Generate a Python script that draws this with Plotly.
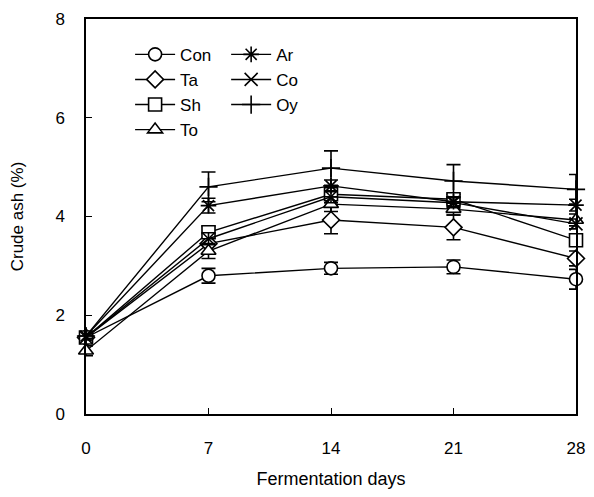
import plotly.graph_objects as go

days = [0, 7, 14, 21, 28]

con = [1.55, 2.80, 2.95, 2.98, 2.73]
con_err = [0.05, 0.15, 0.12, 0.14, 0.20]
ta = [1.55, 3.45, 3.93, 3.78, 3.15]
ta_err = [0.05, 0.20, 0.28, 0.25, 0.15]
sh = [1.55, 3.68, 4.45, 4.35, 3.52]
sh_err = [0.05, 0.12, 0.10, 0.10, 0.12]
to = [1.28, 3.30, 4.25, 4.15, 3.93]
to_err = [0.10, 0.15, 0.15, 0.12, 0.12]
ar = [1.58, 4.22, 4.62, 4.30, 4.23]
ar_err = [0.05, 0.15, 0.12, 0.10, 0.12]
co = [1.55, 3.55, 4.40, 4.28, 3.85]
co_err = [0.05, 0.12, 0.12, 0.10, 0.10]
oy = [1.58, 4.60, 4.98, 4.72, 4.55]
oy_err = [0.05, 0.30, 0.35, 0.33, 0.30]

x_ticks = [0, 7, 14, 21, 28]
y_ticks = [0, 2, 4, 6, 8]

FONT = "Liberation Sans, Arial, sans-serif"

series = [
    ("Con", con, con_err, "circle", "white", "legend"),
    ("Ta", ta, ta_err, "diamond", "white", "legend"),
    ("Sh", sh, sh_err, "square", "white", "legend"),
    ("To", to, to_err, "triangle-up", "white", "legend"),
    ("Ar", ar, ar_err, "asterisk-open", "black", "legend2"),
    ("Co", co, co_err, "x-thin-open", "black", "legend2"),
    ("Oy", oy, oy_err, "cross-thin-open", "black", "legend2"),
]

fig = go.Figure()
for name, vals, err, sym, fill, leg in series:
    fig.add_trace(go.Scatter(
        x=days, y=vals, name=name, mode="lines+markers",
        line=dict(color="black", width=1.4),
        marker=dict(symbol=sym, size=13, color=fill,
                    line=dict(color="black", width=1.6)),
        error_y=dict(type="data", array=err, visible=True,
                     color="black", thickness=1.6, width=7),
        cliponaxis=False,
        legend=leg,
    ))

fig.update_layout(
    width=586, height=481,
    margin=dict(l=78, r=18, t=11, b=75, autoexpand=False),
    paper_bgcolor="white", plot_bgcolor="white",
    font=dict(family=FONT, size=17, color="black"),
    showlegend=True,
    legend=dict(x=0.09, y=0.955, xanchor="left", yanchor="top",
                bgcolor="rgba(0,0,0,0)", font=dict(size=17),
                tracegroupgap=0, itemwidth=40),
    legend2=dict(x=0.286, y=0.955, xanchor="left", yanchor="top",
                 bgcolor="rgba(0,0,0,0)", font=dict(size=17),
                 tracegroupgap=0, itemwidth=40),
    xaxis=dict(range=[0, 28], tickvals=x_ticks, ticktext=[str(v) for v in x_ticks],
               ticks="inside", ticklen=6, tickcolor="black", tickwidth=1.2,
               showline=True, linecolor="black", linewidth=1.5, mirror=True,
               showgrid=False, zeroline=False, ticklabelstandoff=18, automargin=False,
               ticklabeloverflow="allow", tickfont=dict(size=17),
               title=dict(text="Fermentation days", font=dict(size=18), standoff=18)),
    yaxis=dict(range=[0, 8], tickvals=y_ticks, ticktext=[str(v) for v in y_ticks],
               ticks="inside", ticklen=6, tickcolor="black", tickwidth=1.2,
               showline=True, linecolor="black", linewidth=1.5, mirror=True,
               showgrid=False, zeroline=False, ticklabelstandoff=16, automargin=False,
               ticklabeloverflow="allow", tickfont=dict(size=17),
               title=dict(text="Crude ash (%)", font=dict(size=17), standoff=34)),
)

fig.write_html("out.html")
